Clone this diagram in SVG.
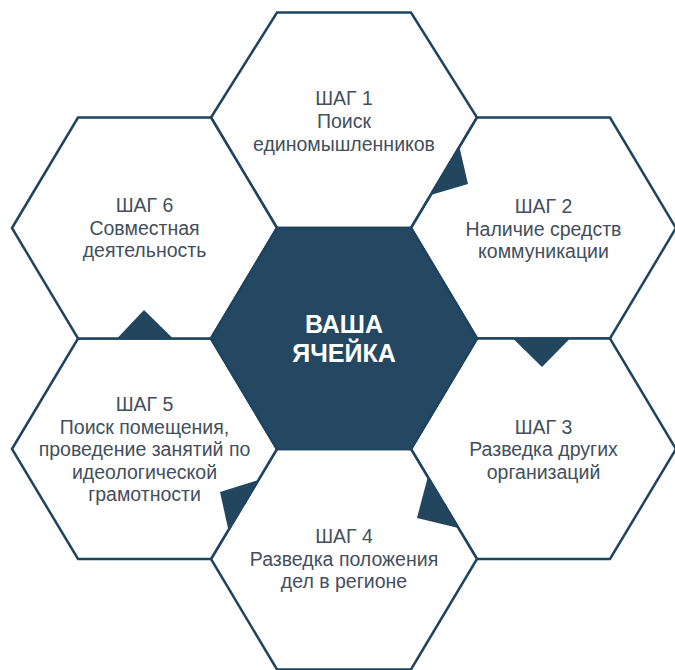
<svg xmlns="http://www.w3.org/2000/svg" width="675" height="670" viewBox="0 0 675 670">
<style>
.hex{fill:#ffffff;stroke:#1f4460;stroke-width:2.5;stroke-linejoin:miter}
.core{fill:#244862;stroke:#1f4460;stroke-width:2.5}
.lbl{font-family:"Liberation Sans",Arial,sans-serif;font-size:19.5px;fill:#434f5c;text-anchor:middle}
.core-lbl{font-family:"Liberation Sans",Arial,sans-serif;font-size:25px;font-weight:bold;fill:#ffffff;text-anchor:middle}
.ptr{fill:#23465f;stroke:none}
</style>
<rect width="675" height="670" fill="#ffffff"/>
<g id="step1">
<polygon class="hex" points="211,117.5 277,12.5 411,12.5 477,117.5 411,228 277,228"/>
<text class="lbl" x="344" y="105">ШАГ 1</text>
<text class="lbl" x="344" y="128">Поиск</text>
<text class="lbl" x="344" y="150.5">единомышленников</text>
</g>
<g id="step2">
<polygon class="hex" points="411,228 477,117.5 610,117.5 676,228 610,338.5 477,338.5"/>
<text class="lbl" x="543.5" y="213">ШАГ 2</text>
<text class="lbl" x="543.5" y="235.5">Наличие средств</text>
<text class="lbl" x="543.5" y="258">коммуникации</text>
</g>
<g id="step3">
<polygon class="hex" points="411,449 477,338.5 610,338.5 676,449 610,559 477,559"/>
<text class="lbl" x="543.5" y="433.5">ШАГ 3</text>
<text class="lbl" x="543.5" y="456">Разведка других</text>
<text class="lbl" x="543.5" y="478.5">организаций</text>
</g>
<g id="step4">
<polygon class="hex" points="211,559 277,449 411,449 477,559 411,669.5 277,669.5"/>
<text class="lbl" x="344" y="543">ШАГ 4</text>
<text class="lbl" x="344" y="565.5">Разведка положения</text>
<text class="lbl" x="344" y="588">дел в регионе</text>
</g>
<g id="step5">
<polygon class="hex" points="12,449 78,338.5 211,338.5 277,449 211,559 78,559"/>
<text class="lbl" x="144.5" y="411">ШАГ 5</text>
<text class="lbl" x="144.5" y="433.5">Поиск помещения,</text>
<text class="lbl" x="144.5" y="456">проведение занятий по</text>
<text class="lbl" x="144.5" y="478.5">идеологической</text>
<text class="lbl" x="144.5" y="501">грамотности</text>
</g>
<g id="step6">
<polygon class="hex" points="12,228 78,117.5 211,117.5 277,228 211,338.5 78,338.5"/>
<text class="lbl" x="144.5" y="212">ШАГ 6</text>
<text class="lbl" x="144.5" y="234.5">Совместная</text>
<text class="lbl" x="144.5" y="257">деятельность</text>
</g>
<g id="core">
<polygon class="core" points="211,338.5 277,228 411,228 477,338.5 411,449 277,449"/>
<text class="core-lbl" x="344" y="333">ВАША</text>
<text class="core-lbl" x="344" y="362">ЯЧЕЙКА</text>
</g>
<g id="connectors">
<polygon class="ptr" points="459.4,147 430.7,195 468,184"/>
<polygon class="ptr" points="513,338.5 570,338.5 542,367"/>
<polygon class="ptr" points="427.8,477 458.4,528 417,518"/>
<polygon class="ptr" points="258.4,480 228.4,530 220,492"/>
<polygon class="ptr" points="117,338.5 173,338.5 144,310"/>
</g>
</svg>
